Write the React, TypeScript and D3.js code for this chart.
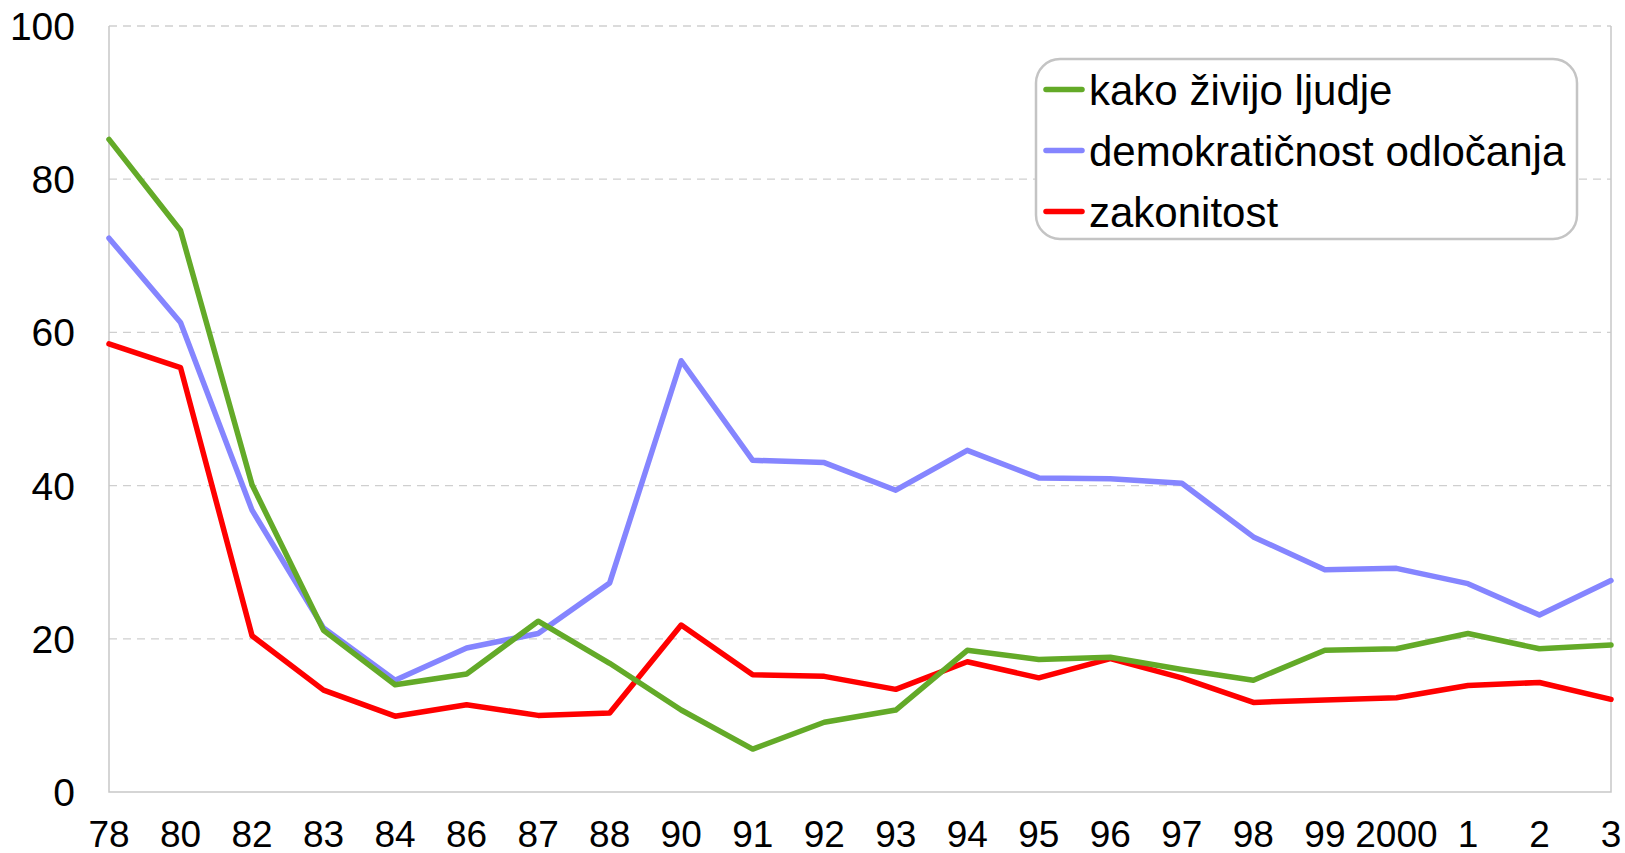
import React, {useEffect, useRef} from "react";
import * as d3 from "d3";

const years = ["78", "80", "82", "83", "84", "86", "87", "88", "90", "91", "92", "93", "94", "95", "96", "97", "98", "99", "2000", "1", "2", "3"];

const kakoZivijo = [85.2, 73.3, 40.1, 21.1, 14.0, 15.4, 22.3, 16.8, 10.7, 5.6, 9.1, 10.7, 18.5, 17.3, 17.6, 16.0, 14.6, 18.5, 18.7, 20.7, 18.7, 19.2];
const demokraticnost = [72.3, 61.3, 36.8, 21.4, 14.6, 18.8, 20.7, 27.3, 56.3, 43.3, 43.0, 39.4, 44.6, 41.0, 40.9, 40.3, 33.3, 29.0, 29.2, 27.2, 23.1, 27.6];
const zakonitost = [58.5, 55.4, 20.4, 13.3, 9.9, 11.4, 10.0, 10.3, 21.8, 15.3, 15.1, 13.4, 17.0, 14.9, 17.4, 14.9, 11.7, 12.0, 12.3, 13.9, 14.3, 12.1];

const seriesNames = ["kako živijo ljudje", "demokratičnost odločanja", "zakonitost"];
const seriesColours = ["#63AA28", "#8585FF", "#FF0000"];
const yTicks = [0, 20, 40, 60, 80, 100];

const width = 1625;
const height = 853;
const margin = {left: 109, right: 14, top: 26, bottom: 61};
const font = "'Liberation Sans', Arial, sans-serif";

const App = () => {
    const ref = useRef(null);

    useEffect(() => {
        const svg = d3.select(ref.current);
        svg.selectAll("*").remove();

        const x = d3.scalePoint().domain(years).range([margin.left, width - margin.right]).padding(0);
        const y = d3.scaleLinear().domain([0, 100]).range([height - margin.bottom, margin.top]);

        // gridlines
        svg.append("g").selectAll("line").data(yTicks.filter(t => t > 0)).join("line")
            .attr("x1", margin.left).attr("x2", width - margin.right)
            .attr("y1", d => y(d)).attr("y2", d => y(d))
            .attr("stroke", "#cfcfcf").attr("stroke-width", 1.3).attr("stroke-dasharray", "8,6");

        // frame: left, bottom, right
        const x0 = margin.left, x1 = width - margin.right, yb = y(0), yt = y(100);
        svg.append("path")
            .attr("d", `M${x0},${yt}V${yb}H${x1}V${yt}`)
            .attr("fill", "none").attr("stroke", "#c8c8c8").attr("stroke-width", 1.5);

        // y labels
        svg.append("g").selectAll("text").data(yTicks).join("text")
            .attr("x", 75).attr("y", d => y(d)).attr("dy", "0.36em")
            .attr("text-anchor", "end").attr("font-family", font).attr("font-size", 39)
            .attr("fill", "#000").text(d => d);

        // x labels
        svg.append("g").selectAll("text").data(years).join("text")
            .attr("x", d => x(d)).attr("y", 847)
            .attr("text-anchor", "middle").attr("font-family", font).attr("font-size", 37)
            .attr("fill", "#000").text(d => d);

        const allSeries = [kakoZivijo, demokraticnost, zakonitost];
        const line = d3.line().x((d, i) => x(years[i])).y(d => y(d));

        // red underneath, green on top
        const order = [2, 1, 0];
        svg.append("g").selectAll("path").data(order).join("path")
            .attr("d", i => line(allSeries[i]))
            .attr("fill", "none").attr("stroke", i => seriesColours[i])
            .attr("stroke-width", 5.5).attr("stroke-linejoin", "round").attr("stroke-linecap", "round");

        // legend
        const legend = svg.append("g");
        legend.append("rect")
            .attr("x", 1036).attr("y", 59).attr("width", 541).attr("height", 180)
            .attr("rx", 24).attr("ry", 24)
            .attr("fill", "#fff").attr("stroke", "#c4c4c4").attr("stroke-width", 2.5);
        const rows = legend.selectAll("g").data(seriesNames).join("g")
            .attr("transform", (d, i) => `translate(0, ${89.5 + i * 61})`);
        rows.append("line")
            .attr("x1", 1046).attr("x2", 1082).attr("y1", 0).attr("y2", 0)
            .attr("stroke", (d, i) => seriesColours[i]).attr("stroke-width", 5.5).attr("stroke-linecap", "round");
        rows.append("text")
            .attr("x", 1089).attr("y", 0).attr("dy", "0.36em")
            .attr("font-family", font).attr("font-size", 42).attr("fill", "#000")
            .text(d => d);
    }, []);

    return (
        <svg
            width={width}
            height={height}
            ref={ref}
            style={{position: "absolute", left: 0, top: 0, background: "#fff"}}
        />
    );
};

export default App;
